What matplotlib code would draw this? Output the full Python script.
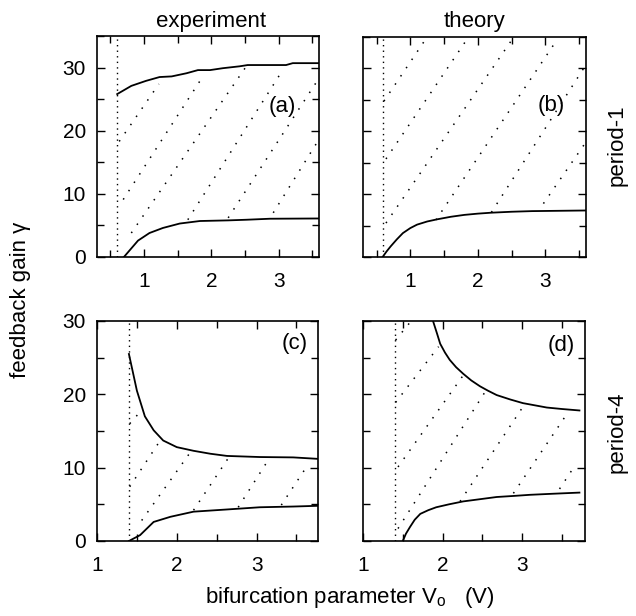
import matplotlib
matplotlib.use("Agg")
import matplotlib.pyplot as plt
from matplotlib.ticker import MultipleLocator

plt.rcParams['font.family'] = ['Liberation Sans', 'DejaVu Sans']
plt.rcParams['mathtext.fontset'] = 'custom'
plt.rcParams['mathtext.rm'] = 'Liberation Sans'
plt.rcParams['mathtext.it'] = 'Liberation Sans'

# (a) experiment, period-1
a_v0 = 0.60
a_up_x = [0.60, 0.81, 1.03, 1.23, 1.41, 1.63, 1.80, 1.98, 2.17, 2.42, 2.54, 3.11, 3.21, 3.60]
a_up_y = [25.8, 27.1, 27.9, 28.5, 28.6, 29.1, 29.6, 29.6, 29.9, 30.2, 30.4, 30.4, 30.7, 30.7]
a_lo_x = [0.70, 0.91, 1.08, 1.28, 1.53, 1.83, 2.25, 2.52, 2.87, 3.60]
a_lo_y = [0.0, 2.6, 3.8, 4.6, 5.3, 5.7, 5.8, 5.9, 6.06, 6.1]
a_dot_x = [[0.63, 1.22], [0.69, 1.88], [0.81, 2.50], [1.65, 3.06], [2.25, 3.58], [2.92, 3.58]]
a_dot_y = [[18.3, 27.4], [9.1, 28.7], [3.8, 29.9], [5.9, 29.6], [6.2, 28.0], [7.0, 18.3]]

# (b) theory, period-1
b_v0 = 0.59
b_lo_x = [0.59, 0.65, 0.71, 0.80, 0.89, 1.00, 1.10, 1.25, 1.40, 1.60, 1.80, 2.00, 2.20, 2.50, 2.80, 3.20, 3.60]
b_lo_y = [0.0, 0.9, 1.7, 2.8, 3.8, 4.6, 5.15, 5.65, 6.0, 6.4, 6.7, 6.9, 7.05, 7.2, 7.3, 7.35, 7.4]
b_dot_x = [[0.61, 1.23], [0.64, 1.83], [0.64, 2.50], [1.38, 3.13], [2.20, 3.60], [2.97, 3.60]]
b_dot_y = [[24.8, 34.7], [15.6, 34.5], [5.4, 34.5], [5.9, 33.9], [7.1, 30.6], [8.5, 18.3]]

# (c) experiment, period-4
c_v0 = 1.40
c_up_x = [1.40, 1.50, 1.60, 1.71, 1.83, 2.00, 2.21, 2.42, 2.63, 3.04, 3.46, 3.77]
c_up_y = [25.5, 20.5, 17.0, 15.1, 13.7, 12.8, 12.3, 11.9, 11.6, 11.45, 11.4, 11.2]
c_lo_x = [1.40, 1.54, 1.71, 1.92, 2.21, 2.63, 3.04, 3.46, 3.77]
c_lo_y = [0.0, 0.8, 2.6, 3.3, 4.0, 4.3, 4.6, 4.7, 4.8]
c_dot_x = [[1.41, 1.54], [1.41, 1.81], [1.56, 2.17], [2.21, 2.67], [2.77, 3.17], [3.31, 3.65]]
c_dot_y = [[16.0, 17.6], [7.4, 14.0], [2.8, 12.1], [4.2, 11.7], [4.6, 11.45], [4.9, 10.5]]

# (d) theory, period-4
d_v0 = 1.40
d_up_x = [1.88, 1.93, 1.97, 2.03, 2.09, 2.17, 2.26, 2.36, 2.47, 2.57, 2.68, 2.85, 3.01, 3.16, 3.31, 3.50, 3.72]
d_up_y = [30.0, 28.3, 26.9, 25.7, 24.7, 23.7, 22.8, 21.9, 21.1, 20.5, 19.9, 19.3, 18.8, 18.5, 18.2, 18.0, 17.8]
d_lo_x = [1.50, 1.54, 1.59, 1.65, 1.72, 1.82, 1.92, 2.08, 2.26, 2.47, 2.68, 2.90, 3.10, 3.40, 3.72]
d_lo_y = [0.0, 1.0, 1.9, 2.9, 3.7, 4.2, 4.6, 5.0, 5.4, 5.7, 6.0, 6.15, 6.3, 6.45, 6.6]
d_dot_x = [[1.41, 1.59], [1.41, 1.95], [1.44, 2.26], [1.44, 2.55], [2.22, 3.01], [2.89, 3.58], [3.47, 3.64]]
d_dot_y = [[27.4, 29.8], [18.9, 26.5], [10.1, 22.6], [1.7, 20.6], [5.4, 18.3], [6.5, 17.6], [7.1, 9.9]]

W, H = 636, 616
fig = plt.figure(figsize=(W / 100, H / 100), dpi=100)


def box(l, t, r, b):
    return [l / W, 1 - b / H, (r - l) / W, (b - t) / H]


def panel(rect, xlim, ylim, v0, curves, dot_x, dot_y, tag, tagpos, ylabels):
    ax = fig.add_axes(box(*rect))
    ax.set_xlim(*xlim)
    ax.set_ylim(*ylim)
    ax.axvline(v0, color='black', lw=1.0, ls=(0, (1, 3)))
    for xs, ys in zip(dot_x, dot_y):
        ax.plot(xs, ys, color='black', lw=1.1, ls=(0, (1, 5.5)))
    for xs, ys in curves:
        ax.plot(xs, ys, color='black', lw=1.3)
    ax.xaxis.set_major_locator(MultipleLocator(1))
    ax.xaxis.set_minor_locator(MultipleLocator(0.5))
    ax.yaxis.set_major_locator(MultipleLocator(10))
    ax.yaxis.set_minor_locator(MultipleLocator(5))
    ax.tick_params(which='both', direction='in', top=True, right=True, width=1.0,
                   labelsize=15)
    ax.tick_params(which='major', length=6)
    ax.tick_params(which='minor', length=5)
    ax.tick_params(axis='x', pad=11)
    ax.tick_params(axis='y', pad=8)
    if not ylabels:
        ax.set_yticklabels([])
    for s in ax.spines.values():
        s.set_linewidth(1.2)
    ax.text(tagpos[0], tagpos[1], tag, transform=ax.transAxes,
            ha='right', va='center', fontsize=16)
    return ax


panel((97, 36, 319, 257), (0.3, 3.6), (0, 35), a_v0,
      [(a_up_x, a_up_y), (a_lo_x, a_lo_y)], a_dot_x, a_dot_y, '(a)', (0.895, 0.68), True)
panel((363, 37, 586, 257), (0.3, 3.6), (0, 35), b_v0,
      [(b_lo_x, b_lo_y)], b_dot_x, b_dot_y, '(b)', (0.905, 0.69), False)
panel((97, 321, 318, 541), (1.0, 3.77), (0, 30), c_v0,
      [(c_up_x, c_up_y), (c_lo_x, c_lo_y)], c_dot_x, c_dot_y, '(c)', (0.955, 0.90), True)
panel((363, 321, 585, 541), (1.0, 3.79), (0, 30), d_v0,
      [(d_up_x, d_up_y), (d_lo_x, d_lo_y)], d_dot_x, d_dot_y, '(d)', (0.955, 0.89), False)

fig.text(211 / W, 1 - 27 / H, 'experiment', ha='center', va='baseline', fontsize=16)
fig.text(475 / W, 1 - 27 / H, 'theory', ha='center', va='baseline', fontsize=16)
fig.text(617 / W, 1 - 145 / H, 'period-1', rotation=90, ha='center', va='center', fontsize=16)
fig.text(617 / W, 1 - 432 / H, 'period-4', rotation=90, ha='center', va='center', fontsize=16)
fig.text(21 / W, 1 - 300 / H, 'feedback gain γ', rotation=90, ha='center', va='center', fontsize=16)
fig.text(350 / W, 1 - 598 / H, r'bifurcation parameter V$_\mathrm{o}$   (V)',
         ha='center', va='center', fontsize=16)

fig.savefig('out.png', dpi=100)
